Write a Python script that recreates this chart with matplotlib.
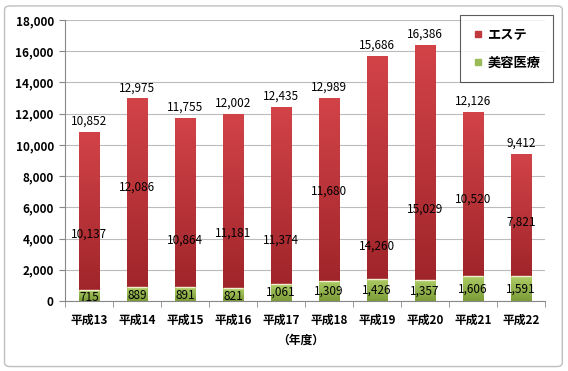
import numpy as np
import matplotlib
matplotlib.use("Agg")
import matplotlib.pyplot as plt
from matplotlib.colors import LinearSegmentedColormap
from matplotlib.patches import FancyBboxPatch
from matplotlib.lines import Line2D

plt.rcParams['font.family'] = ['Noto Sans CJK JP', 'DejaVu Sans']

# data
years = ['平成13', '平成14', '平成15', '平成16', '平成17',
         '平成18', '平成19', '平成20', '平成21', '平成22']
biyou = [715, 889, 891, 821, 1061, 1309, 1426, 1357, 1606, 1591]
esute = [10137, 12086, 10864, 11181, 11374, 11680, 14260, 15029, 10520, 7821]
totals = [10852, 12975, 11755, 12002, 12435, 12989, 15686, 16386, 12126, 9412]

# label heights (hand placed in the original)
esute_label_y = [4300, 7300, 3900, 4350, 3900, 7050, 3500, 5900, 6500, 5060]
biyou_label_y = [250, 350, 350, 300, 550, 650, 700, 650, 750, 750]

fig = plt.figure(figsize=(5.68, 3.71), dpi=100)
fig.patches.append(FancyBboxPatch((0.008, 0.012), 0.982, 0.972,
                                  boxstyle="round,pad=0,rounding_size=0.01",
                                  transform=fig.transFigure, facecolor='white',
                                  edgecolor='#BFBFBF', linewidth=1.0, zorder=-10))
ax = fig.add_axes([0.1144, 0.1887, 0.845, 0.7573])
ax.patch.set_alpha(0)

x = np.arange(len(years))
w = 0.42
green_bars = ax.bar(x, biyou, w, color='#93B74B', edgecolor='none', zorder=2)
red_bars = ax.bar(x, esute, w, bottom=biyou, color='#BE3438', edgecolor='none', zorder=2)

red_cm = LinearSegmentedColormap.from_list('r', ['#A0252A', '#D24348'])
green_cm = LinearSegmentedColormap.from_list('g', ['#7C9C38', '#AECD66'])
grad = np.linspace(0, 1, 100).reshape(-1, 1)
for bars, cm in ((red_bars, red_cm), (green_bars, green_cm)):
    for b in bars:
        x0, y0 = b.get_x(), b.get_y()
        im = ax.imshow(grad, cmap=cm, origin='lower', aspect='auto',
                       extent=(x0, x0 + b.get_width(), y0, y0 + b.get_height()), zorder=2)
        im.set_clip_path(b)
# thin light line between segments
ax.hlines(biyou, x - w / 2, x + w / 2, colors='#F0F0D0', linewidth=1.0, zorder=3)

ax.set_xlim(-0.5, len(years) - 0.5)
ax.set_ylim(0, 18000)
ax.set_yticks(np.arange(0, 18001, 2000))
ax.set_yticklabels([f'{v:,}' for v in range(0, 18001, 2000)], fontsize=8.5, fontweight='bold')
ax.set_xticks(x)
ax.set_xticklabels(years, fontsize=8.5, fontweight='bold')
ax.set_xticks(np.arange(-0.5, len(years)), minor=True)
ax.tick_params(axis='x', which='major', length=0, pad=9)
ax.tick_params(axis='x', which='minor', length=4, color='#888888')
ax.tick_params(axis='y', length=4, color='#888888', pad=4)
ax.grid(axis='y', color='#BBBBBB', linewidth=0.8, zorder=0)
ax.set_axisbelow(True)
for s in ('top', 'right'):
    ax.spines[s].set_visible(False)
for s in ('left', 'bottom'):
    ax.spines[s].set_color('#888888')

for i in range(len(years)):
    ax.annotate(f'{totals[i]:,}', (x[i], totals[i]), xytext=(0, 3), textcoords='offset points',
                ha='center', va='bottom', fontsize=8.5, zorder=5)
    ax.text(x[i], esute_label_y[i], f'{esute[i]:,}', ha='center', va='center',
            fontsize=8.5, zorder=5)
    ax.text(x[i], biyou_label_y[i], f'{biyou[i]:,}', ha='center', va='center',
            fontsize=8.5, zorder=5)

fig.text(0.53, 0.083, '（年度）', ha='center', va='center', fontsize=8.5, fontweight='bold')

handles = [Line2D([], [], marker='s', linestyle='none', markersize=4, color='#C0393D'),
           Line2D([], [], marker='s', linestyle='none', markersize=4, color='#9BBB59')]
leg = fig.legend(handles, ['エステ', '美容医療'], loc='upper right',
                 bbox_to_anchor=(553 / 568, 1 - 15 / 371), frameon=True, fancybox=False,
                 handlelength=0.8, handletextpad=0.3, labelspacing=1.05, borderpad=0.95,
                 borderaxespad=0, prop={'size': 9.5, 'weight': 'bold'})
leg.get_frame().set_edgecolor('#333333')
leg.get_frame().set_linewidth(0.8)
leg.set_zorder(10)

fig.savefig('out.png', dpi=100)
